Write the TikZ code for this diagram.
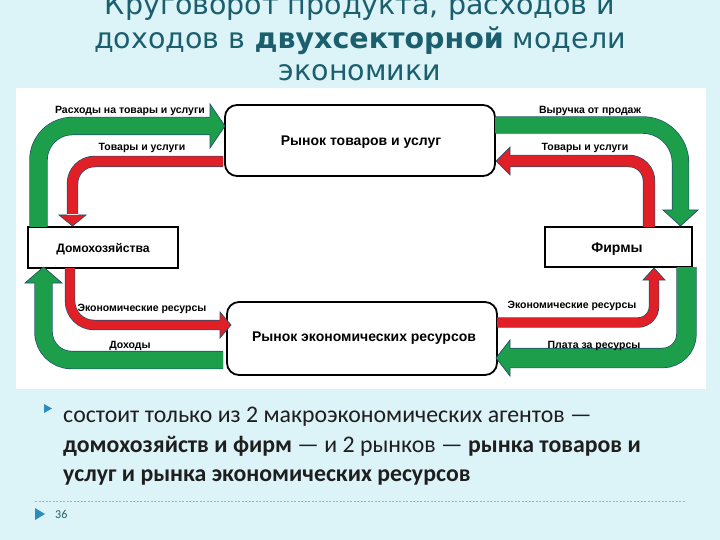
\documentclass[tikz,border=0pt]{standalone}
\usepackage{fontspec}
\setmainfont{Carlito}
\newfontfamily\titlefont{DejaVu Sans}
\newfontfamily\diagfont{Liberation Sans}
\definecolor{slidebg}{HTML}{DCF3F8}
\definecolor{titleC}{HTML}{1B5F6E}
\definecolor{grC}{HTML}{1C9E4B}
\definecolor{rdC}{HTML}{E11F26}
\definecolor{olC}{HTML}{23506B}
\definecolor{bulC}{HTML}{2A8DBE}
\definecolor{dashC}{HTML}{79BFD0}
\definecolor{bodyC}{HTML}{1E1E1E}
\tikzset{
  band/.style 2 args={draw=olC, line width=0.7pt, double=#1, double distance=#2},
  headline/.style={draw=olC, line width=0.7pt, line join=miter},
  lbl/.style={font=\diagfont\bfseries\fontsize{10.5}{11}\selectfont, inner sep=0pt},
  boxlbl/.style={font=\diagfont\bfseries\fontsize{14}{16}\selectfont, inner sep=0pt},
  market/.style={draw=black, line width=1.8pt, rounded corners=12pt, fill=white},
  agent/.style={draw=black, line width=1.6pt, fill=white},
  titleline/.style={font=\titlefont\fontsize{28.5}{32}\selectfont, text=titleC, inner sep=0pt, anchor=base},
  bodyline/.style={font=\fontsize{23.8}{27}\selectfont, text=bodyC, inner sep=0pt, anchor=base west},
}
\begin{document}
\begin{tikzpicture}[x=1pt,y=-1pt]
\useasboundingbox (0,0) rectangle (720,540);
\clip (0,0) rectangle (720,540);
\fill[slidebg] (0,0) rectangle (720,540);
% title
\node[titleline] (t1) at (360,15) {Круговорот продукта, расходов и};
\node[titleline] (t2) at (360,49) {доходов в \textbf{двухсекторной} модели};
\node[titleline] (t3) at (360,81) {экономики};
% diagram area
\fill[white] (16,88) rectangle (706,389);
% boxes
\path[market] (225,105) rectangle (495,176);
\node[boxlbl] (gm) at (361,142) {Рынок товаров и услуг};
\path[market] (227,302) rectangle (497,375);
\node[boxlbl] (rm) at (364,338) {Рынок экономических ресурсов};
\path[agent] (28,227) rectangle (178,268);
\node[boxlbl, font=\diagfont\bfseries\fontsize{12.2}{14}\selectfont] (hh) at (103,249) {Домохозяйства};
\path[agent] (545,227) rectangle (692,267);
\node[boxlbl] (fi) at (617,249) {Фирмы};
% coordinates
\coordinate (gTLs) at (38.5,227);   \coordinate (gTLe) at (211,126);
\coordinate (rTLs) at (223,161.5);  \coordinate (rTLe) at (72.5,214);
\coordinate (gTRs) at (495,125);    \coordinate (gTRe) at (680.5,211);
\coordinate (rTRs) at (649,227);    \coordinate (rTRe) at (509,161);
\coordinate (rBLs) at (70,268);     \coordinate (rBLe) at (221,325);
\coordinate (gBLs) at (223,360);    \coordinate (gBLe) at (43.5,282);
\coordinate (rBRs) at (497,322.5);  \coordinate (rBRe) at (654,279);
\coordinate (gBRs) at (686.5,267);  \coordinate (gBRe) at (509,358);
% green top-left
\draw[band={grC}{17pt}, rounded corners=34pt] (gTLs) |- (gTLe);
\fill[grC] (210,104) -- (225,126) -- (210,148) -- cycle;
\draw[headline] (210,117) -- (210,104) -- (225,126) -- (210,148) -- (210,135);
% red top-left
\draw[band={rdC}{10pt}, rounded corners=22pt] (rTLs) -| (rTLe);
\fill[rdC] (59,215) -- (72.5,226) -- (86,215) -- cycle;
\draw[headline] (67,215) -- (59,215) -- (72.5,226) -- (86,215) -- (78,215);
% green top-right
\draw[band={grC}{16pt}, rounded corners=38pt] (gTRs) -| (gTRe);
\fill[grC] (663,210) -- (680.5,226) -- (698,210) -- cycle;
\draw[headline] (672,210) -- (663,210) -- (680.5,226) -- (698,210) -- (689,210);
% red top-right
\draw[band={rdC}{11pt}, rounded corners=20pt] (rTRs) |- (rTRe);
\fill[rdC] (510,147) -- (496,161) -- (510,175) -- cycle;
\draw[headline] (510,155) -- (510,147) -- (496,161) -- (510,175) -- (510,167);
% red bottom-left
\draw[band={rdC}{9pt}, rounded corners=24pt] (rBLs) |- (rBLe);
\fill[rdC] (220,312) -- (231,325) -- (220,338) -- cycle;
\draw[headline] (220,320) -- (220,312) -- (231,325) -- (220,338) -- (220,330);
% green bottom-left
\draw[band={grC}{17pt}, rounded corners=28pt] (gBLs) -| (gBLe);
\fill[grC] (25,283) -- (43.5,267) -- (62,283) -- cycle;
\draw[headline] (35,283) -- (25,283) -- (43.5,267) -- (62,283) -- (52,283);
% red bottom-right
\draw[band={rdC}{9pt}, rounded corners=16pt] (rBRs) -| (rBRe);
\fill[rdC] (643,280) -- (654,268) -- (665,280) -- cycle;
\draw[headline] (649.5,280) -- (643,280) -- (654,268) -- (665,280) -- (658.5,280);
% green bottom-right
\draw[band={grC}{19pt}, rounded corners=24pt] (gBRs) |- (gBRe);
\fill[grC] (510,340) -- (496,358) -- (510,376) -- cycle;
\draw[headline] (510,348.5) -- (510,340) -- (496,358) -- (510,376) -- (510,367.5);
% labels
\node[lbl] (l1) at (130,111) {Расходы на товары и услуги};
\node[lbl] (l2) at (142,148) {Товары и услуги};
\node[lbl] (l3) at (590,111) {Выручка от продаж};
\node[lbl] (l4) at (585,148) {Товары и услуги};
\node[lbl] (l5) at (142,309) {Экономические ресурсы};
\node[lbl] (l6) at (130,346) {Доходы};
\node[lbl] (l7) at (572,306) {Экономические ресурсы};
\node[lbl] (l8) at (594,346) {Плата за ресурсы};
% bullet text
\fill[bulC] (44,404) -- (52,408.5) -- (44,413) -- cycle;
\node[bodyline] (b1) at (63,422) {состоит только из 2 макроэкономических агентов —};
\node[bodyline] (b2) at (63,452) {\textbf{домохозяйств и фирм} — и 2 рынков — \textbf{рынка товаров и}};
\node[bodyline] (b3) at (63,481) {\textbf{услуг и рынка экономических ресурсов}};
% footer
\draw[dashC, line width=0.6pt, dash pattern=on 2pt off 1.5pt] (35,501) -- (686,501);
\fill[bulC] (35,508) -- (45,514) -- (35,520) -- cycle;
\node[font=\fontsize{12}{14}\selectfont, text=titleC, inner sep=0pt, anchor=west] (pg) at (55,514) {36};
\end{tikzpicture}
\end{document}
